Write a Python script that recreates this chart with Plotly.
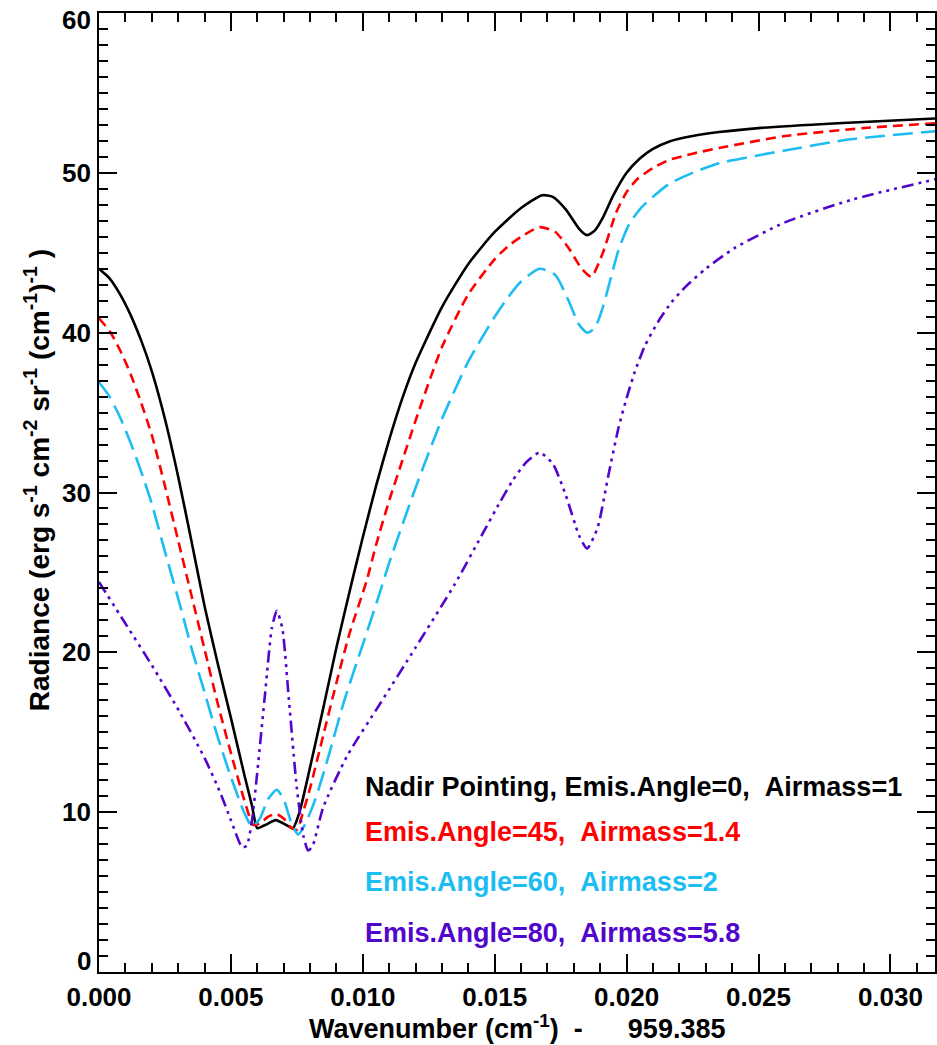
import plotly.graph_objects as go

# Wavenumber offsets (units of 0.001 cm^-1 from 959.385) and radiance for each viewing geometry
nadir_x = [0, 0.4, 0.8, 1.2, 1.6, 2.0, 2.5, 3.0, 3.5, 4.0, 4.5, 5.0, 5.5, 5.8, 6.0, 6.3, 6.7,
           7.1, 7.35, 7.6, 8.0, 8.5, 9.0, 9.6, 10.0, 10.5, 11.0, 11.5, 12.0, 13.0, 14.0, 15.0,
           16.0, 16.8, 17.2, 17.7, 18.2, 18.5, 18.8, 19.1, 19.5, 20.0, 20.5, 21.0, 21.6, 22.5,
           23.5, 25.0, 28.0, 31.7]
nadir_y = [44.0, 43.4, 42.4, 41.1, 39.5, 37.6, 34.6, 31.0, 27.0, 22.9, 19.3, 15.9, 12.4,
           10.4, 9.0, 9.2, 9.5, 9.2, 9.0, 10.0, 12.8, 16.5, 20.3, 24.5, 27.2, 30.4, 33.3, 35.9,
           38.1, 41.6, 44.3, 46.3, 47.8, 48.6, 48.5, 47.7, 46.5, 46.1, 46.4, 47.2, 48.6, 50.0,
           50.9, 51.5, 51.95, 52.3, 52.55, 52.8, 53.1, 53.4]

a45_x = [0, 0.4, 0.8, 1.2, 1.6, 2.0, 2.5, 3.0, 3.5, 4.0, 4.5, 5.0, 5.5, 5.85, 6.1, 6.4, 6.7,
         7.0, 7.3, 7.5, 7.7, 8.0, 8.5, 9.0, 9.5, 10.15, 10.5, 11.0, 11.5, 12.0, 13.0, 14.0,
         15.0, 15.5, 16.0, 16.7, 17.3, 17.8, 18.3, 18.66, 19.1, 19.6, 20.0, 20.4, 21.0, 21.6,
         22.5, 23.5, 26.0, 29.0, 31.7]
a45_y = [40.9, 40.1, 38.9, 37.4, 35.6, 33.6, 30.4, 27.0, 23.6, 20.2, 16.8, 13.7, 10.8, 9.2,
         9.3, 9.7, 9.9, 9.6, 9.0, 8.9, 9.8, 11.5, 14.8, 18.1, 21.2, 24.5, 26.7, 29.5, 32.0,
         34.5, 39.1, 42.4, 44.6, 45.4, 46.0, 46.6, 46.3, 45.3, 44.0, 43.5, 45.0, 47.5, 48.8,
         49.6, 50.3, 50.8, 51.2, 51.55, 52.3, 52.8, 53.1]

a60_x = [0, 0.4, 0.8, 1.2, 1.6, 2.0, 2.5, 3.08, 3.5, 4.0, 4.5, 5.0, 5.5, 5.8, 6.1, 6.4, 6.74,
         7.0, 7.3, 7.55, 7.8, 8.2, 8.7, 9.3, 10.0, 10.6, 11.0, 12.0, 13.0, 14.0, 15.0, 15.5,
         16.0, 16.7, 17.3, 17.8, 18.2, 18.5, 18.8, 19.1, 19.7, 20.1, 20.6, 21.6, 22.5, 23.5,
         26.0, 28.5, 31.7]
a60_y = [36.9, 36.0, 34.7, 33.1, 31.3, 29.3, 26.3, 22.9, 20.3, 17.5, 14.7, 12.2, 10.0, 9.1,
         9.6, 10.8, 11.4, 10.8, 9.3, 8.6, 9.2, 10.8, 13.5, 17.0, 20.5, 23.5, 25.6, 30.3, 34.6,
         38.2, 41.0, 42.2, 43.2, 44.0, 43.6, 42.0, 40.5, 40.0, 40.3, 41.6, 45.2, 46.8, 47.9,
         49.3, 50.0, 50.6, 51.4, 52.1, 52.6]

a80_x = [0, 1, 2, 3.08, 4, 4.6, 5.0, 5.43, 5.6, 5.8, 6.0, 6.3, 6.55, 6.74, 6.95, 7.2, 7.5,
         7.75, 7.93, 8.1, 8.5, 9.4, 10.66, 12, 13.5, 14.5, 15.2, 15.7, 16.2, 16.7, 17.2, 17.7,
         18.2, 18.5, 18.9, 19.3, 19.7, 20.0, 20.3, 20.7, 21.2, 21.7, 22.25, 23.0, 24.1, 26.0,
         28.5, 31.7]
a80_y = [24.4, 21.8, 19.2, 16.2, 13.4, 11.2, 9.5, 7.8, 7.9, 9.5, 12.5, 17.5, 21.5, 22.6, 21.5,
         17.0, 11.5, 8.5, 7.6, 7.9, 10.3, 13.5, 16.8, 20.3, 24.3, 27.3, 29.4, 30.8, 31.9, 32.5,
         31.8, 29.8, 27.3, 26.5, 27.8, 31.0, 34.1, 35.9, 37.5, 39.2, 40.7, 41.9, 42.9, 44.0,
         45.3, 46.9, 48.3, 49.6]

series_labels = [
    "Nadir Pointing, Emis.Angle=0,\u00a0\u00a0Airmass=1",
    "Emis.Angle=45,\u00a0\u00a0Airmass=1.4",
    "Emis.Angle=60,\u00a0\u00a0Airmass=2",
    "Emis.Angle=80,\u00a0\u00a0Airmass=5.8",
]
label_y = [11.6, 8.75, 5.65, 2.45]
y_ticks = [0, 10, 20, 30, 40, 50, 60]

colors = ["#000000", "#ff0000", "#1cbdf2", "#5206cc"]
dashes = ["solid", "10px,6px", "20px,8px", "12px,5px,3px,5px,3px,5px,3px,5px"]
xs = [nadir_x, a45_x, a60_x, a80_x]
ys = [nadir_y, a45_y, a60_y, a80_y]

FONT = "Liberation Sans"

fig = go.Figure()
for x, y, c, d in zip(xs, ys, colors, dashes):
    fig.add_trace(go.Scatter(
        x=[v * 0.001 for v in x], y=y, mode="lines",
        line=dict(color=c, width=2.6, dash=d, shape="spline", smoothing=0.6),
        showlegend=False, hoverinfo="skip",
    ))

annotations = []
for text, yy, c in zip(series_labels, label_y, colors):
    annotations.append(dict(
        x=0.00999, y=yy, xref="x", yref="y", text=text, showarrow=False,
        xanchor="left", yanchor="middle",
        font=dict(family=FONT, size=27, color=c, weight="bold"),
    ))

# y tick labels, kept inside the axis span at both ends
for v in y_ticks:
    shift = 0
    if v == 0:
        shift = 11
    elif v == 60:
        shift = -7
    annotations.append(dict(
        x=0, y=v, xref="paper", yref="y", text=str(v), showarrow=False,
        xanchor="right", yanchor="middle", xshift=-6, yshift=shift,
        font=dict(family=FONT, size=26, color="black", weight="bold"),
    ))

annotations.append(dict(
    x=0.5, y=-0.0575, xref="paper", yref="paper",
    text="Wavenumber (cm<sup>-1</sup>)\u00a0\u00a0-" + "\u00a0" * 6 + "959.385",
    showarrow=False, xanchor="center", yanchor="middle",
    font=dict(family=FONT, size=27, color="black", weight="bold"),
))
annotations.append(dict(
    x=-0.074, y=0.513, xref="paper", yref="paper", textangle=-90,
    text="Radiance (erg s<sup>-1</sup> cm<sup>-2</sup> sr<sup>-1</sup> (cm<sup>-1</sup>)<sup>-1</sup> )",
    showarrow=False, xanchor="center", yanchor="middle",
    font=dict(family=FONT, size=28, color="black", weight="bold"),
))

axis_common = dict(
    showline=True, linecolor="black", linewidth=2, mirror="allticks",
    ticks="inside", tickcolor="black", tickwidth=2, ticklen=18,
    showgrid=False, zeroline=False,
)

fig.update_layout(
    width=937, height=1045,
    margin=dict(l=99, r=0, t=13, b=73),
    paper_bgcolor="white", plot_bgcolor="white",
    annotations=annotations,
    xaxis=dict(
        range=[0, 0.03169], tick0=0, dtick=0.005, tickformat=".3f",
        tickfont=dict(family=FONT, size=26, color="black", weight="bold"),
        minor=dict(dtick=0.001, ticks="inside", ticklen=9, tickwidth=2, tickcolor="black"),
        ticklabelstandoff=1,
        **axis_common,
    ),
    yaxis=dict(
        range=[0, 60], tick0=0, dtick=10, showticklabels=False,
        minor=dict(dtick=1, ticks="inside", ticklen=9, tickwidth=2, tickcolor="black"),
        **axis_common,
    ),
)

fig.write_html("out.html")
